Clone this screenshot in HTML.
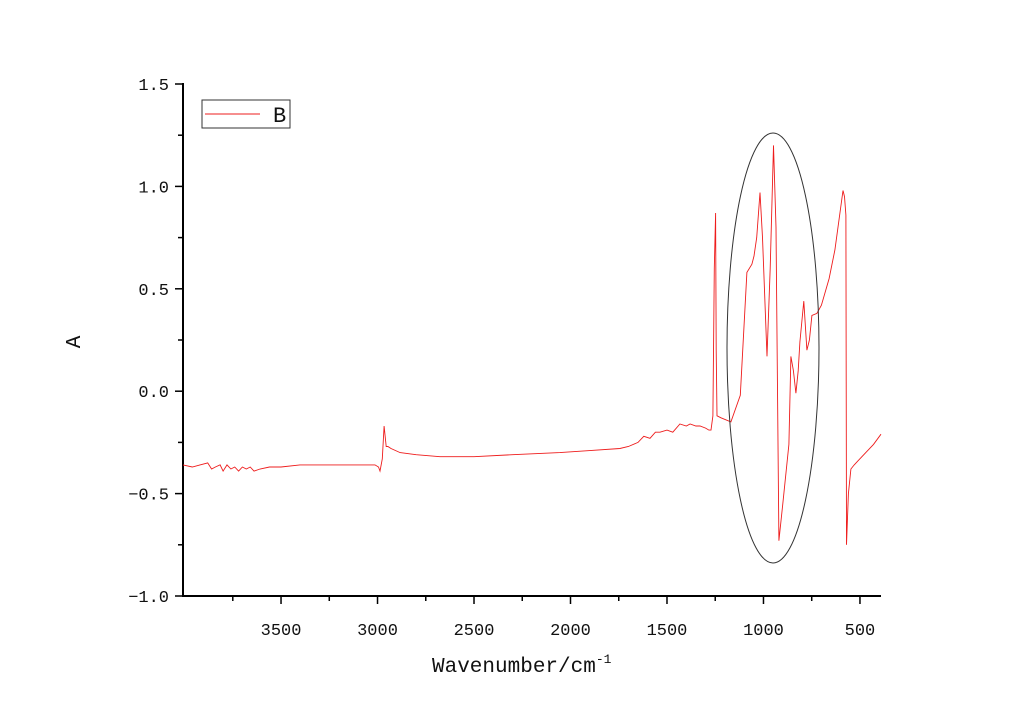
<!DOCTYPE html>
<html><head><meta charset="utf-8"><style>
body{margin:0;background:#fff}
svg text{font-family:"Liberation Mono","Noto Serif CJK SC",monospace;fill:#111}
</style></head><body>
<svg id="chart" width="1024" height="714" xmlns="http://www.w3.org/2000/svg">
<g id="axes"></g>
<path id="series" fill="none" stroke="#ee1c1c" stroke-width="0.9"/>
<ellipse cx="773" cy="348" rx="46" ry="215" fill="none" stroke="#333" stroke-width="1"/>
<g>
<rect x="202" y="100" width="88" height="28" fill="#fff" stroke="#333" stroke-width="1"/>
<line x1="205" y1="114" x2="260" y2="114" stroke="#ee1c1c" stroke-width="1"/>
<text x="273" y="122" font-size="22" font-family="Liberation Serif">B</text>
</g>
<text x="432" y="672" font-size="21">Wavenumber/cm<tspan font-size="13" dy="-9">-1</tspan></text>
<text transform="translate(80,342) rotate(-90)" text-anchor="middle" font-size="21">A</text>
</svg>
<script>
const xTicks=[3500,3000,2500,2000,1500,1000,500];
const yTicks=[-1.0,-0.5,0.0,0.5,1.0,1.5];
const wavenumbers=[4008,3960,3920,3880,3860,3840,3816,3800,3780,3760,3740,3720,3700,3680,3660,3640,3609,3560,3500,3402,3200,3013,2995,2987,2975,2966,2955,2946,2930,2883,2800,2676,2500,2300,2055,1900,1744,1700,1650,1620,1588,1560,1536,1500,1470,1433,1400,1380,1350,1329,1300,1283,1272,1262,1255,1248,1245,1241,1220,1169,1120,1086,1060,1049,1035,1018,1005,982,965,948,935,920,900,868,858,845,832,820,811,791,775,762,749,723,700,660,630,588,580,573,570,560,547,530,510,470,430,391];
const absorb=[-0.36,-0.37,-0.36,-0.35,-0.38,-0.37,-0.36,-0.39,-0.36,-0.38,-0.37,-0.39,-0.37,-0.38,-0.37,-0.39,-0.38,-0.37,-0.37,-0.36,-0.36,-0.36,-0.37,-0.39,-0.33,-0.17,-0.27,-0.27,-0.28,-0.30,-0.31,-0.32,-0.32,-0.31,-0.30,-0.29,-0.28,-0.27,-0.25,-0.22,-0.23,-0.20,-0.20,-0.19,-0.20,-0.16,-0.17,-0.16,-0.17,-0.17,-0.18,-0.19,-0.19,-0.12,0.60,0.87,0.20,-0.12,-0.13,-0.15,-0.02,0.58,0.62,0.66,0.75,0.97,0.75,0.17,0.60,1.20,0.80,-0.73,-0.55,-0.26,0.17,0.10,-0.01,0.10,0.24,0.44,0.20,0.25,0.37,0.38,0.42,0.55,0.69,0.98,0.95,0.86,-0.75,-0.50,-0.38,-0.36,-0.34,-0.30,-0.26,-0.21];
const X0=183,X1=881,Y0=596,Y1=83;
const WMAX=4008,WMIN=391,AMIN=-1.0,AMAX=1.5;
function sx(w){return X0+(WMAX-w)/(WMAX-WMIN)*(X1-X0);}
function sy(a){return Y0-(a-AMIN)/(AMAX-AMIN)*(596-84);}
const NS="http://www.w3.org/2000/svg";
const ax=document.getElementById('axes');
function mk(t,attrs,parent){const e=document.createElementNS(NS,t);for(const k in attrs)e.setAttribute(k,attrs[k]);(parent||ax).appendChild(e);return e;}
const yl=mk('line',{x1:X0,y1:Y1,x2:X0,y2:Y0+1,stroke:'#000','stroke-width':2});


const xl=mk('line',{x1:X0-1,y1:Y0,x2:X1,y2:Y0,stroke:'#000','stroke-width':2});


for(let w=3750;w>=500;w-=250){const x=sx(w);const major=xTicks.includes(w);
 const t=mk('line',{x1:x,y1:Y0,x2:x,y2:Y0+(major?8:5),stroke:'#000','stroke-width':1.5});
 
 }
xTicks.forEach(w=>{const l=mk('text',{x:sx(w),y:Y0+39,'text-anchor':'middle','font-size':17});l.textContent=w;
 
 });
for(let a=-1.0;a<=1.5001;a+=0.25){const y=sy(a);const major=Math.abs(a*2-Math.round(a*2))<1e-6;
 const t=mk('line',{x1:X0-(major?8:5),y1:y,x2:X0,y2:y,stroke:'#000','stroke-width':1.5});
 
 }
yTicks.forEach(a=>{const l=mk('text',{x:X0-14,y:sy(a)+6,'text-anchor':'end','font-size':17});l.textContent=(a<0?'\u2212':'')+Math.abs(a).toFixed(1);
 
 });
let d='';wavenumbers.forEach((w,i)=>{d+=(i?'L':'M')+sx(w).toFixed(1)+','+sy(absorb[i]).toFixed(1);});
document.getElementById('series').setAttribute('d',d);
</script>
</body></html>
